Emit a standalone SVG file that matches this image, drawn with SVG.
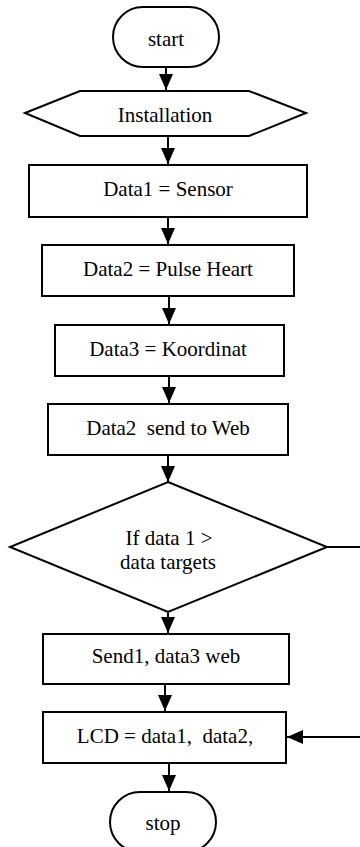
<svg xmlns="http://www.w3.org/2000/svg" width="360" height="847" viewBox="0 0 360 847">
<style>
.s{fill:#fff;stroke:#000;stroke-width:2}
.t{font-family:'Liberation Serif','Times New Roman',Times,serif;font-size:21px;fill:#000;text-anchor:middle;white-space:pre}
.c{stroke:#000;stroke-width:2;fill:none}
</style>
<defs>
<marker id="ah" markerWidth="16" markerHeight="14" refX="16" refY="7" orient="auto" markerUnits="userSpaceOnUse">
<path d="M0,0 L16,7 L0,14 Z" fill="#000"/>
</marker>
</defs>
<rect width="360" height="847" fill="#fff"/>
<g id="connectors">
<line class="c" x1="166" y1="67" x2="166" y2="90" marker-end="url(#ah)"/>
<line class="c" x1="168" y1="136" x2="168" y2="164" marker-end="url(#ah)"/>
<line class="c" x1="168" y1="217" x2="168" y2="244" marker-end="url(#ah)"/>
<line class="c" x1="169" y1="296" x2="169" y2="324" marker-end="url(#ah)"/>
<line class="c" x1="169" y1="376" x2="169" y2="403" marker-end="url(#ah)"/>
<line class="c" x1="168" y1="455" x2="168" y2="482" marker-end="url(#ah)"/>
<line class="c" x1="168" y1="613" x2="168" y2="633" marker-end="url(#ah)"/>
<line class="c" x1="165" y1="684" x2="165" y2="711" marker-end="url(#ah)"/>
<line class="c" x1="169" y1="763" x2="169" y2="791" marker-end="url(#ah)"/>
<line class="c" x1="327" y1="547" x2="362" y2="547"/>
<line class="c" x1="362" y1="737" x2="287" y2="737" marker-end="url(#ah)"/>
</g>
<g id="start">
<rect class="s" x="113" y="7" width="106" height="60" rx="30" ry="30"/>
<text class="t" x="166" y="46" font-family="Liberation Serif, serif">start</text>
</g>
<g id="installation">
<polygon class="s" points="25,113 80,91 249,91 306,113 249,136 80,136"/>
<text class="t" x="165" y="122" font-family="Liberation Serif, serif">Installation</text>
</g>
<g id="data1">
<rect class="s" x="29" y="165" width="278" height="52"/>
<text class="t" x="168" y="196" font-family="Liberation Serif, serif">Data1 = Sensor</text>
</g>
<g id="data2">
<rect class="s" x="42" y="245" width="252" height="51"/>
<text class="t" x="168" y="276" font-family="Liberation Serif, serif">Data2 = Pulse Heart</text>
</g>
<g id="data3">
<rect class="s" x="55" y="325" width="229" height="51"/>
<text class="t" x="168" y="356" font-family="Liberation Serif, serif">Data3 = Koordinat</text>
</g>
<g id="send2">
<rect class="s" x="48" y="404" width="240" height="51"/>
<text class="t" x="168" y="435" font-family="Liberation Serif, serif">Data2  send to Web</text>
</g>
<g id="decision">
<polygon class="s" points="168,482 327,547 168,612 10,547"/>
<text class="t" x="169" y="545" font-family="Liberation Serif, serif">If data 1 &gt;</text>
<text class="t" x="168" y="569" font-family="Liberation Serif, serif">data targets</text>
</g>
<g id="send1">
<rect class="s" x="43" y="634" width="246" height="50"/>
<text class="t" x="166" y="663" font-family="Liberation Serif, serif">Send1, data3 web</text>
</g>
<g id="lcd">
<rect class="s" x="43" y="712" width="243" height="51"/>
<text class="t" x="165" y="743" font-family="Liberation Serif, serif">LCD = data1,  data2,</text>
</g>
<g id="stop">
<rect class="s" x="110" y="792" width="106" height="60" rx="30" ry="30"/>
<text class="t" x="163" y="830" font-family="Liberation Serif, serif">stop</text>
</g>
</svg>
